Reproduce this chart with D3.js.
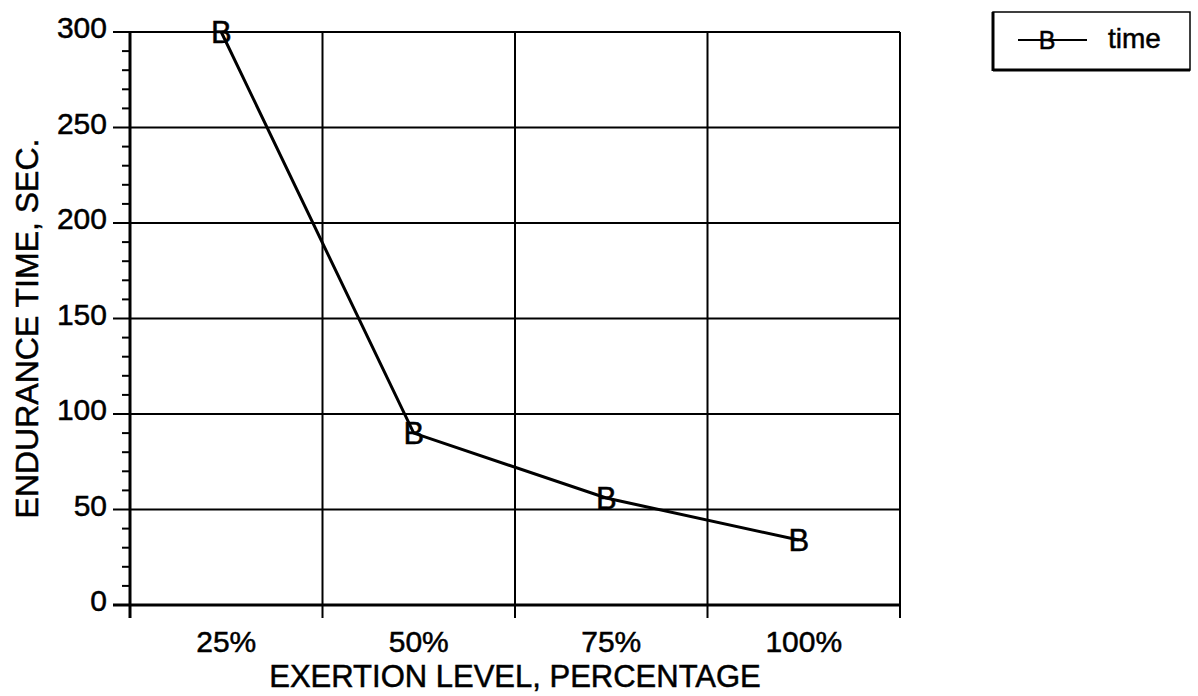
<!DOCTYPE html>
<html>
<head>
<meta charset="utf-8">
<script src="https://cdn.jsdelivr.net/npm/d3@7/dist/d3.min.js"></script>
<style>
  html, body { margin: 0; padding: 0; background: #fff; }
  svg text { font-family: "Liberation Sans", Arial, Helvetica, sans-serif; fill: #000; stroke: #000; stroke-width: 0.5px; }
</style>
</head>
<body>
<svg id="chart" width="1198" height="696"></svg>
<script>
const categories = ["25%", "50%", "75%", "100%"];
const timeValues = [300, 90, 56, 34];
const yTicks = [0, 50, 100, 150, 200, 250, 300];
const yMinorTicks = d3.range(0, 301, 10).filter(v => v % 50 !== 0);
const seriesName = "time";
const markerChar = "B";
const xTitle = "EXERTION LEVEL, PERCENTAGE";
const yTitle = "ENDURANCE TIME, SEC.";

const svg = d3.select("#chart");
const m = { left: 130, right: 900, top: 32, bottom: 605 };

const x = d3.scaleBand().domain(categories).range([m.left, m.right]);
const y = d3.scaleLinear().domain([0, 300]).range([m.bottom, m.top]);

// horizontal gridlines (major)
svg.append("g").selectAll("line").data(yTicks).join("line")
  .attr("x1", m.left - 17).attr("x2", m.right)
  .attr("y1", d => y(d)).attr("y2", d => y(d))
  .attr("stroke", "#000").attr("stroke-width", d => d === 0 ? 3 : 2);

// minor ticks
svg.append("g").selectAll("line").data(yMinorTicks).join("line")
  .attr("x1", m.left - 8).attr("x2", m.left)
  .attr("y1", d => y(d)).attr("y2", d => y(d))
  .attr("stroke", "#000").attr("stroke-width", 2);

// vertical gridlines at band boundaries
const bounds = categories.map(c => x(c) + x.bandwidth());
svg.append("g").selectAll("line").data(bounds).join("line")
  .attr("x1", d => d).attr("x2", d => d)
  .attr("y1", m.top).attr("y2", m.bottom + 13)
  .attr("stroke", "#000").attr("stroke-width", 2);

// left axis
svg.append("line").attr("x1", m.left).attr("x2", m.left)
  .attr("y1", m.top).attr("y2", m.bottom + 13)
  .attr("stroke", "#000").attr("stroke-width", 3);

// y tick labels
svg.append("g").selectAll("text").data(yTicks).join("text")
  .attr("x", 107).attr("y", d => y(d) + 6)
  .attr("text-anchor", "end").attr("font-size", 30)
  .text(d => d);

// x tick labels
svg.append("g").selectAll("text").data(categories).join("text")
  .attr("x", d => x(d) + x.bandwidth() / 2).attr("y", 652)
  .attr("text-anchor", "middle").attr("font-size", 30)
  .text(d => d);

// axis titles
svg.append("text").attr("x", (m.left + m.right) / 2).attr("y", 687)
  .attr("text-anchor", "middle").attr("font-size", 31).text(xTitle);
svg.append("text")
  .attr("transform", `translate(38,${(m.top + m.bottom) / 2 + 10}) rotate(-90)`)
  .attr("text-anchor", "middle").attr("font-size", 32).text(yTitle);

// data line
const px = d => x(d) + x.bandwidth() / 2 - 5;
const line = d3.line().x((d, i) => px(categories[i])).y(d => y(d));
svg.append("path").datum(timeValues).attr("d", line)
  .attr("fill", "none").attr("stroke", "#000").attr("stroke-width", 3);

// markers "B"
svg.append("g").selectAll("text").data(timeValues).join("text")
  .attr("x", (d, i) => px(categories[i])).attr("y", d => y(d) + 11)
  .attr("text-anchor", "middle").attr("font-size", 31)
  .text(markerChar);

// legend
const lg = svg.append("g");
lg.append("rect").attr("x", 993).attr("y", 12).attr("width", 197).attr("height", 58)
  .attr("fill", "none").attr("stroke", "#000").attr("stroke-width", 1.5);
lg.append("line").attr("x1", 993).attr("x2", 993).attr("y1", 12).attr("y2", 71)
  .attr("stroke", "#000").attr("stroke-width", 3);
lg.append("line").attr("x1", 993).attr("x2", 1190).attr("y1", 70).attr("y2", 70)
  .attr("stroke", "#000").attr("stroke-width", 3);
lg.append("line").attr("x1", 1018).attr("x2", 1087).attr("y1", 40).attr("y2", 40)
  .attr("stroke", "#000").attr("stroke-width", 2);
lg.append("text").attr("x", 1047).attr("y", 49).attr("text-anchor", "middle")
  .attr("font-size", 25).text(markerChar);
lg.append("text").attr("x", 1108).attr("y", 48).attr("font-size", 28).text(seriesName);
</script>
</body>
</html>
